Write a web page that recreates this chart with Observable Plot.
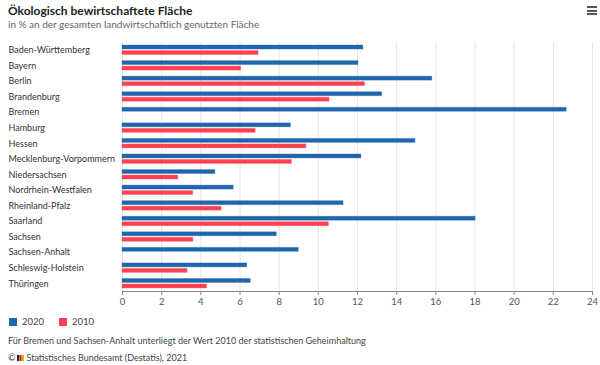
<!DOCTYPE html>
<html>
<head>
<meta charset="utf-8">
<script src="https://cdn.jsdelivr.net/npm/d3@7"></script>
<script src="https://cdn.jsdelivr.net/npm/@observablehq/plot@0.6"></script>
<style>
  html, body { margin: 0; padding: 0; background: #fff; }
  body { width: 600px; height: 365px; position: relative; overflow: hidden; font-family: Lato, "Open Sans", sans-serif; }
  .title { position: absolute; left: 8px; top: 3px; font-size: 12px; font-weight: bold; color: #222; }
  .subtitle { position: absolute; left: 8px; top: 18px; font-size: 10px; color: #666; }
  .menu { position: absolute; left: 587px; top: 6px; width: 10px; }
  .menu div { height: 2px; background: #555; margin-bottom: 1.5px; }
  #chart { position: absolute; left: 0; top: 36px; }
  .legend { position: absolute; left: 9px; top: 316px; font-size: 9.5px; color: #444; display: flex; align-items: center; }
  .legend .sw { display: inline-block; width: 8px; height: 8px; margin-right: 5px; }
  .legend .item { display: flex; align-items: center; margin-right: 15px; }
  .note { position: absolute; left: 8px; top: 335px; font-size: 9px; color: #444; }
  .credit { position: absolute; left: 8px; top: 352px; font-size: 9px; color: #444; }
  .logo { display: inline-block; width: 7px; height: 7px; margin: 0 2px 0 2px; }
</style>
</head>
<body>
<div class="title">Ökologisch bewirtschaftete Fläche</div>
<div class="subtitle">in % an der gesamten landwirtschaftlich genutzten Fläche</div>
<div class="menu"><div></div><div></div><div></div></div>
<div id="chart"></div>
<div class="legend">
  <span class="item"><span class="sw" style="background:#1f66ad"></span>2020</span>
  <span class="item"><span class="sw" style="background:#ff4152"></span>2010</span>
</div>
<div class="note">Für Bremen und Sachsen-Anhalt unterliegt der Wert 2010 der statistischen Geheimhaltung</div>
<div class="credit">©<svg class="logo" viewBox="0 0 7 7"><rect x="0" y="1" width="2" height="6" fill="#222"/><rect x="2.5" y="1" width="2" height="6" fill="#d00"/><rect x="5" y="1" width="2" height="6" fill="#e8b000"/></svg>Statistisches Bundesamt (Destatis), 2021</div>
<script>
const states = ["Baden-Württemberg", "Bayern", "Berlin", "Brandenburg", "Bremen", "Hamburg", "Hessen",
  "Mecklenburg-Vorpommern", "Niedersachsen", "Nordrhein-Westfalen", "Rheinland-Pfalz", "Saarland",
  "Sachsen", "Sachsen-Anhalt", "Schleswig-Holstein", "Thüringen"];
const values2020 = [12.3, 12.05, 15.82, 13.26, 22.68, 8.6, 14.96, 12.2, 4.74, 5.68, 11.29, 18.03, 7.88, 9.0, 6.37, 6.55];
const values2010 = [6.95, 6.06, 12.38, 10.57, null, 6.8, 9.39, 8.65, 2.85, 3.61, 5.06, 10.54, 3.62, null, 3.32, 4.32];
const xTicks = [0, 2, 4, 6, 8, 10, 12, 14, 16, 18, 20, 22, 24];
const seriesNames = ["2020", "2010"];
const seriesColors = ["#1f66ad", "#ff4152"];

const d2020 = states.map((s, i) => ({state: s, value: values2020[i]}));
const d2010 = states.map((s, i) => ({state: s, value: values2010[i]})).filter(d => d.value != null);

const chart = Plot.plot({
  width: 600,
  height: 272,
  marginLeft: 122,
  marginRight: 8,
  marginTop: 6,
  marginBottom: 17,
  style: {fontFamily: "Lato, 'Open Sans', sans-serif", fontSize: "10px", background: "#fff"},
  x: {domain: [0, 24], axis: null},
  y: {domain: states, paddingInner: 0.39, paddingOuter: 0.195, round: false, axis: null},
  marks: [
    Plot.gridX(xTicks, {stroke: "#e6e6e6", strokeOpacity: 1}),
    Plot.barX(d2020, {x: "value", y: "state", fill: seriesColors[0], insetBottom: 5.5, stroke: seriesColors[0], strokeOpacity: 0.3, strokeWidth: 1}),
    Plot.barX(d2010, {x: "value", y: "state", fill: seriesColors[1], insetTop: 5.5, stroke: seriesColors[1], strokeOpacity: 0.3, strokeWidth: 1}),
    Plot.frame({anchor: "bottom", stroke: "#888"}),
    Plot.axisX(xTicks, {tickSize: 4, stroke: "#888", tickPadding: 3, fill: "#555", fontSize: 9.5, label: null}),
    Plot.axisY({tickSize: 0, tickPadding: 3, textAnchor: "start", dx: -111, fill: "#333", fontSize: 9, label: null})
  ]
});
document.getElementById("chart").appendChild(chart);
</script>
</body>
</html>
